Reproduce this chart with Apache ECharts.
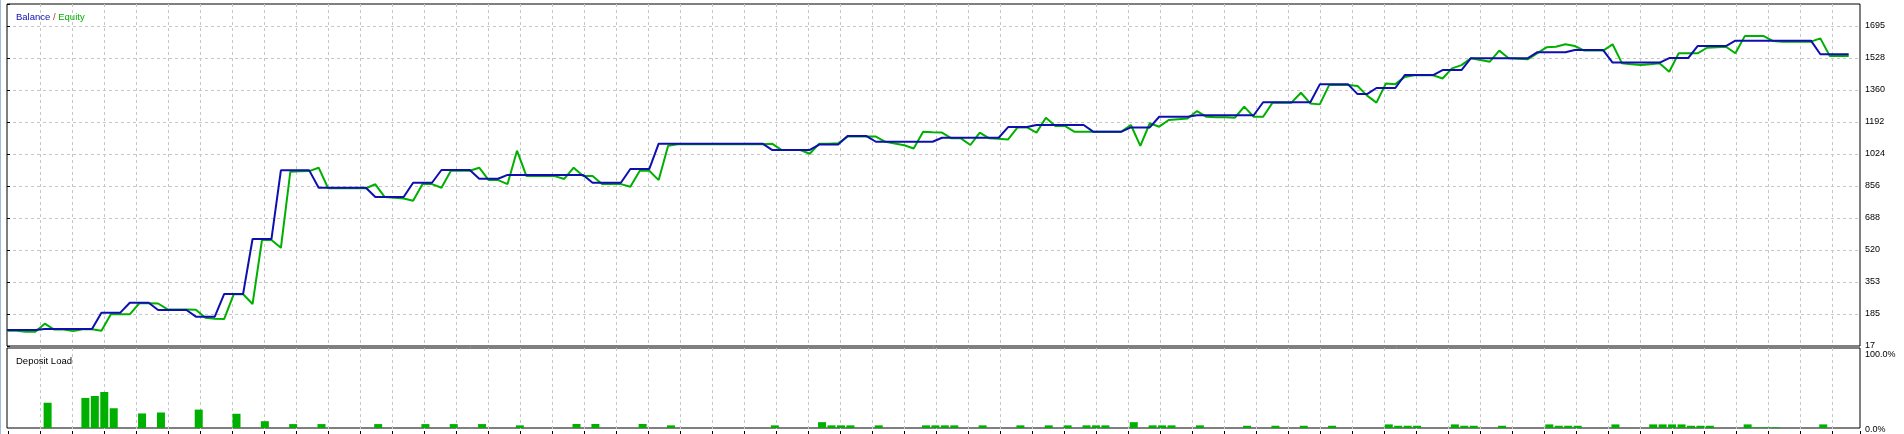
<!DOCTYPE html>
<html>
<head>
<meta charset="utf-8">
<script src="https://cdn.jsdelivr.net/npm/echarts@6/dist/echarts.min.js"></script>
<style>
html,body{margin:0;padding:0;background:#fff;}
#c{position:absolute;left:0;top:0;width:1904px;height:434px;}
#edge{position:absolute;left:0;top:0;width:1px;height:434px;background:#a3bcdd;}
</style>
</head>
<body>
<div id="c"></div>
<div id="edge"></div>
<script>
// ---- data (trade index 0..195) ----
const balance = [
  101,101,101,101,106,106,106,106,106,106,
  192,192,192,244,244,244,206,206,206,206,
  171,171,171,290,290,290,578,578,578,938,
  938,938,938,847,847,847,847,847,847,798,
  798,798,798,873,873,873,940,940,940,940,
  894,894,894,914,914,914,914,914,914,914,
  914,914,873,873,873,873,945,945,945,1078,
  1078,1078,1078,1078,1078,1078,1078,1078,1078,1078,
  1078,1045,1045,1045,1045,1045,1073,1073,1073,1118,
  1118,1118,1088,1088,1088,1088,1088,1088,1088,1109,
  1109,1109,1109,1109,1109,1109,1165,1165,1165,1176,
  1176,1176,1176,1176,1176,1141,1141,1141,1141,1163,
  1163,1163,1219,1219,1219,1219,1227,1227,1227,1227,
  1227,1227,1227,1295,1295,1295,1295,1295,1295,1389,
  1389,1389,1389,1338,1338,1370,1370,1370,1438,1438,
  1438,1438,1464,1464,1464,1526,1526,1526,1526,1526,
  1526,1526,1557,1557,1557,1557,1569,1569,1569,1569,
  1503,1503,1503,1503,1503,1503,1527,1527,1527,1590,
  1590,1590,1590,1618,1618,1618,1618,1618,1618,1618,
  1618,1618,1547,1547,1547,1547
];
const equity = [
  97,97,92,92,134,103,103,95,105,105,
  97,183,183,183,241,241,240,209,209,209,
  207,165,160,159,288,288,237,573,573,532,
  931,933,934,952,844,844,844,844,844,865,
  798,795,790,779,866,866,847,936,936,936,
  952,887,887,866,1041,908,908,908,908,893,
  952,908,908,866,866,866,852,936,936,887,
  1067,1075,1075,1075,1075,1075,1075,1075,1075,1075,
  1075,1078,1045,1045,1045,1025,1078,1078,1080,1115,
  1115,1115,1115,1088,1079,1070,1053,1141,1138,1136,
  1106,1106,1071,1136,1106,1104,1100,1163,1163,1136,
  1214,1171,1171,1141,1141,1141,1141,1141,1141,1176,
  1066,1185,1167,1202,1206,1210,1249,1219,1216,1216,
  1214,1272,1219,1219,1293,1293,1293,1345,1289,1284,
  1386,1386,1386,1380,1330,1293,1394,1390,1428,1437,
  1437,1437,1420,1473,1490,1526,1517,1508,1566,1526,
  1523,1520,1551,1583,1586,1599,1590,1566,1566,1566,
  1599,1499,1495,1490,1495,1499,1455,1552,1552,1552,
  1581,1584,1586,1552,1642,1642,1642,1616,1613,1613,
  1613,1613,1630,1538,1538,1538
];
const loadTrade = [
  4,8,9,10,11,14,16,20,24,27,30,33,39,44,47,50,
  54,60,62,67,70,81,86,87,88,89,92,97,98,99,100,103,107,110,112,114,115,116,119,121,122,123,126,
  131,134,137,140,146,147,148,149,153,154,155,158,163,164,165,166,170,
  174,175,176,177,178,179,180,184,185,186,187,192
];
const loadPct = [
  31.6,37.6,40,45,24.7,18.2,19.4,23,17.8,8.5,4.9,4.9,4.9,4.9,4.9,4.9,
  3.3,5,5,5,3.3,3.3,7.3,3.3,3.3,3.3,3.3,3.3,3.3,3.3,3.3,3.3,3.3,3.3,3.3,3.3,3.3,3.3,7.3,3.3,3.3,3.3,3.3,
  2.8,2.8,2.8,2.8,4.5,2.8,2.8,2.8,4.5,2.8,2.8,2.8,4.5,2.8,2.8,2.8,4.5,
  4.5,4.5,4.5,4.5,2.8,2.8,2.8,4.5,0.8,0.8,0.8,4.5
];
const yTickValues = [17,185,353,520,688,856,1024,1192,1360,1528,1695];
const yTickLabels = ['17','185','353','520','688','856','1024','1192','1360','1528','1695'];
const loadTickLabels = ['0.0%','100.0%'];
const titleMain = ['Balance', ' / ', 'Equity'];
const titleSub = 'Deposit Load';

// ---- layout / style ----
const FONT = '"Liberation Sans", Arial, sans-serif';
const BLUE = '#0f0fb0';
const GREEN = '#00b000';
const GRID_C = '#c6c6c6';
const plotLeft = 7, plotW = 1853, helperLeft = 8, helperW = 1852;
const mainTop = 4, mainH = 342, subTop = 348, subH = 83;
const lastIdx = balance.length - 1;
const xMax = lastIdx * plotW / 1841.7;
const yMin = yTickValues[0], yStep = (yTickValues[10] - yTickValues[0]) / 10;
const yMax = yMin + yStep * mainH / 32;

const dashed = {show:true, lineStyle:{color:GRID_C, width:1, type:[3,3]}, showMinLine:false, showMaxLine:false};

function yLabel(v){
  const k = Math.round((v - yMin) / yStep);
  if (k >= 0 && k < yTickLabels.length && Math.abs(v - (yMin + k*yStep)) < 0.5) return yTickLabels[k];
  return '';
}

const chart = echarts.init(document.getElementById('c'), null, {renderer:'canvas'});
chart.setOption({
  animation:false,
  backgroundColor:'#ffffff',
  textStyle:{fontFamily:FONT},
  title:[
    {text:'{b|'+titleMain[0]+'}{s|'+titleMain[1]+'}{e|'+titleMain[2]+'}', left:11, top:7,
     textStyle:{fontSize:9, fontFamily:FONT, fontWeight:'normal',
       rich:{b:{color:BLUE,fontSize:9.5,fontFamily:FONT}, s:{color:'#b04020',fontSize:9.5,fontFamily:FONT}, e:{color:GREEN,fontSize:9.5,fontFamily:FONT}}}},
    {text:titleSub, left:11, top:351, textStyle:{fontSize:9.5, fontFamily:FONT, fontWeight:'normal', color:'#000'}}
  ],
  grid:[
    {left:plotLeft, top:mainTop, width:plotW, height:mainH, show:true, borderColor:'#000', borderWidth:1, backgroundColor:'transparent', containLabel:false},
    {left:plotLeft, top:subTop, width:plotW, height:subH, show:true, borderColor:'#000', borderWidth:1, backgroundColor:'transparent', containLabel:false},
    {left:helperLeft, top:mainTop, width:helperW, height:mainH, show:false},
    {left:helperLeft, top:subTop, width:helperW, height:subH, show:false}
  ],
  xAxis:[
    {gridIndex:0, type:'value', min:0, max:xMax, show:false},
    {gridIndex:1, type:'value', min:-0.3, max:xMax-0.3, show:false},
    {gridIndex:2, type:'value', min:0, max:helperW, interval:32, axisLine:{show:false}, axisTick:{show:false}, axisLabel:{show:false}, splitLine:dashed},
    {gridIndex:3, type:'value', min:0, max:helperW, interval:32, position:'bottom', axisLine:{show:false},
     axisTick:{show:true, inside:false, length:3, lineStyle:{color:'#000', width:1}}, axisLabel:{show:false}, splitLine:dashed}
  ],
  yAxis:[
    {gridIndex:0, type:'value', position:'right', min:yMin, max:yMax, interval:yStep,
     axisLine:{show:false}, axisTick:{show:true, length:3, lineStyle:{color:'#000'}},
     axisLabel:{show:true, margin:5, color:'#000', fontSize:9, fontFamily:FONT, formatter:yLabel},
     splitLine:dashed},
    {gridIndex:1, type:'value', position:'right', min:0, max:100, interval:100,
     axisLine:{show:false}, axisTick:{show:false}, splitLine:{show:false},
     axisLabel:{show:true, margin:5, color:'#000', fontSize:9, fontFamily:FONT,
       formatter:function(v){ if(v===100) return '{t|'+loadTickLabels[1]+'}'; if(v===0) return '{b|'+loadTickLabels[0]+'}'; return ''; },
       rich:{t:{padding:[13,0,0,0], fontSize:9, color:'#000', fontFamily:FONT}, b:{padding:[3,0,0,0], fontSize:9, color:'#000', fontFamily:FONT}}}},
    {gridIndex:2, type:'value', min:0, max:1, show:false},
    {gridIndex:3, type:'value', min:0, max:1, show:false}
  ],
  series:[
    {name:'Equity', type:'line', xAxisIndex:0, yAxisIndex:0, data:equity.map((v,i)=>[i,v]),
     symbol:'none', lineStyle:{color:GREEN, width:2}, itemStyle:{color:GREEN}, z:3, clip:true},
    {name:'Balance', type:'line', xAxisIndex:0, yAxisIndex:0, data:balance.map((v,i)=>[i,v]),
     symbol:'none', lineStyle:{color:BLUE, width:2}, itemStyle:{color:BLUE}, z:4, clip:true},
    {name:'Deposit Load', type:'bar', xAxisIndex:1, yAxisIndex:1, data:loadTrade.map((t,k)=>[t, loadPct[k]]),
     barWidth:8, itemStyle:{color:GREEN}, z:3}
  ]
});
</script>
</body>
</html>
